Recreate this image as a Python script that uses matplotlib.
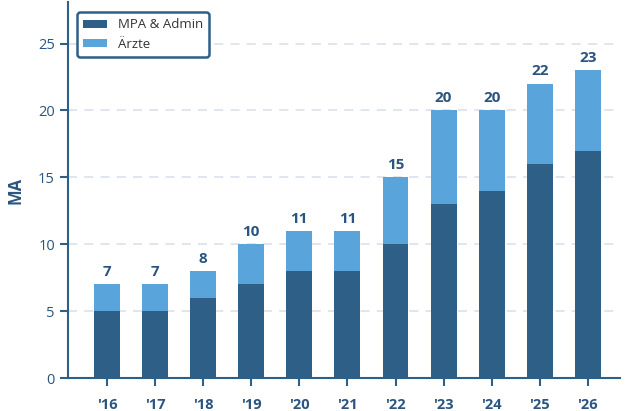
import numpy as np
import matplotlib.pyplot as plt

plt.rcParams['font.family'] = ['Open Sans', 'DejaVu Sans']

years = ["'16", "'17", "'18", "'19", "'20", "'21", "'22", "'23", "'24", "'25", "'26"]
mpa_admin = [5, 5, 6, 7, 8, 8, 10, 13, 14, 16, 17]
aerzte = [2, 2, 2, 3, 3, 3, 5, 7, 6, 6, 6]

dark = '#2e5f87'
light = '#5aa4dc'
txt = '#2b5580'

x = np.arange(len(years))
totals = np.array(mpa_admin) + np.array(aerzte)

fig = plt.figure(figsize=(6.25, 4.11), dpi=100)
ax = fig.add_axes([0.109, 0.080, 0.883, 0.915])

ax.bar(x, mpa_admin, width=0.54, color=dark, label='MPA & Admin', zorder=3)
ax.bar(x, aerzte, width=0.54, bottom=mpa_admin, color=light, label='Ärzte', zorder=3)

for xi, t in zip(x, totals):
    ax.text(xi, t + 0.4, str(t), ha='center', va='bottom', fontsize=11,
            fontweight='bold', color=txt)

ax.set_xlim(-0.81, 10.67)
ax.set_ylim(0, 28.1)
ax.set_yticks([0, 5, 10, 15, 20, 25])
ax.set_xticks(x)
ax.set_xticklabels(years, fontweight='bold')
ax.tick_params(axis='both', colors=dark, labelcolor=txt, labelsize=10.5,
               length=6, width=1.5, direction='out')
ax.tick_params(axis='x', pad=8)
ax.set_ylabel('MA', fontsize=12, fontweight='bold', color=txt, labelpad=10)

ax.grid(axis='y', linestyle=(0, (5, 4)), color='#dce4ee', linewidth=1.3, zorder=0)
for s in ['top', 'right']:
    ax.spines[s].set_visible(False)
for s in ['left', 'bottom']:
    ax.spines[s].set_color(dark)
    ax.spines[s].set_linewidth(1.5)

leg = ax.legend(loc='upper left', bbox_to_anchor=(0.005, 0.99), fontsize=9.5,
                frameon=True, fancybox=True, handlelength=1.8, handleheight=0.55,
                handletextpad=0.8, borderpad=0.45, labelspacing=0.5)
leg.get_frame().set_edgecolor(dark)
leg.get_frame().set_linewidth(1.8)
leg.get_frame().set_alpha(1)
for t in leg.get_texts():
    t.set_color('#333333')

fig.savefig('out.png', dpi=100)
